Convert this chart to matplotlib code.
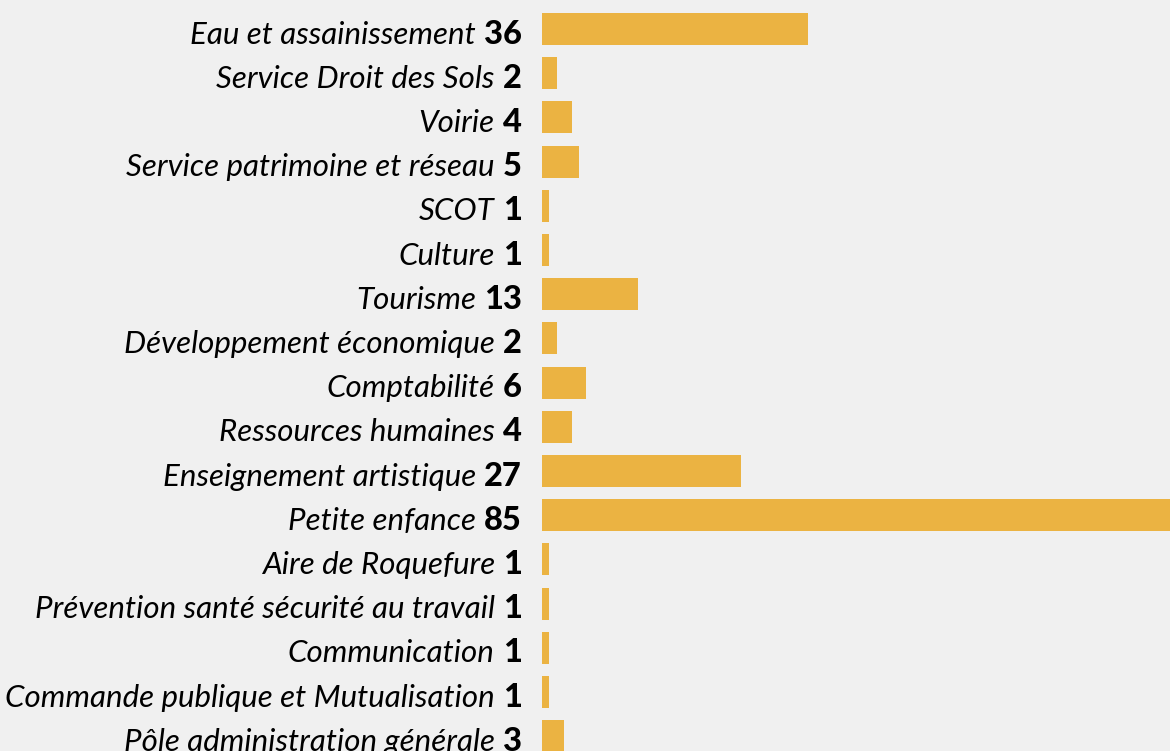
import matplotlib.pyplot as plt

services = ["Eau et assainissement", "Service Droit des Sols", "Voirie",
            "Service patrimoine et réseau", "SCOT", "Culture", "Tourisme",
            "Développement économique", "Comptabilité", "Ressources humaines",
            "Enseignement artistique", "Petite enfance", "Aire de Roquefure",
            "Prévention santé sécurité au travail", "Communication",
            "Commande publique et Mutualisation", "Pôle administration générale"]
counts = [36, 2, 4, 5, 1, 1, 13, 2, 6, 4, 27, 85, 1, 1, 1, 1, 3]

bg = "#f0f0f0"
bar_color = "#ebb342"

fig = plt.figure(figsize=(11.7, 7.51), dpi=100, facecolor=bg)
ax = fig.add_axes([542 / 1170, 0, 1 - 542 / 1170, 1])
ax.set_facecolor(bg)

pos = list(range(len(services)))
ax.barh(pos, counts, height=0.72, color=bar_color)
ax.set_xlim(0, 85)
ax.set_ylim((751 - 29) / 44.2, -29 / 44.2)  # row 0 at top
ax.axis("off")

renderer = fig.canvas.get_renderer()
gap = -14.4  # 20 px between number and bar
for i, (name, n) in enumerate(zip(services, counts)):
    num = ax.annotate(str(n), xy=(0, i), xycoords="data", xytext=(gap, -10.5),
                      textcoords="offset points", ha="right", va="baseline",
                      fontsize=23.5, fontweight="black", family="Lato")
    w = num.get_window_extent(renderer).width * 72 / fig.dpi
    ax.annotate(name, xy=(0, i), xycoords="data", xytext=(gap - w - 6, -10.5),
                textcoords="offset points", ha="right", va="baseline",
                fontsize=22.5, fontstyle="italic", family="Lato")

fig.savefig("out.png", dpi=100, facecolor=bg)
